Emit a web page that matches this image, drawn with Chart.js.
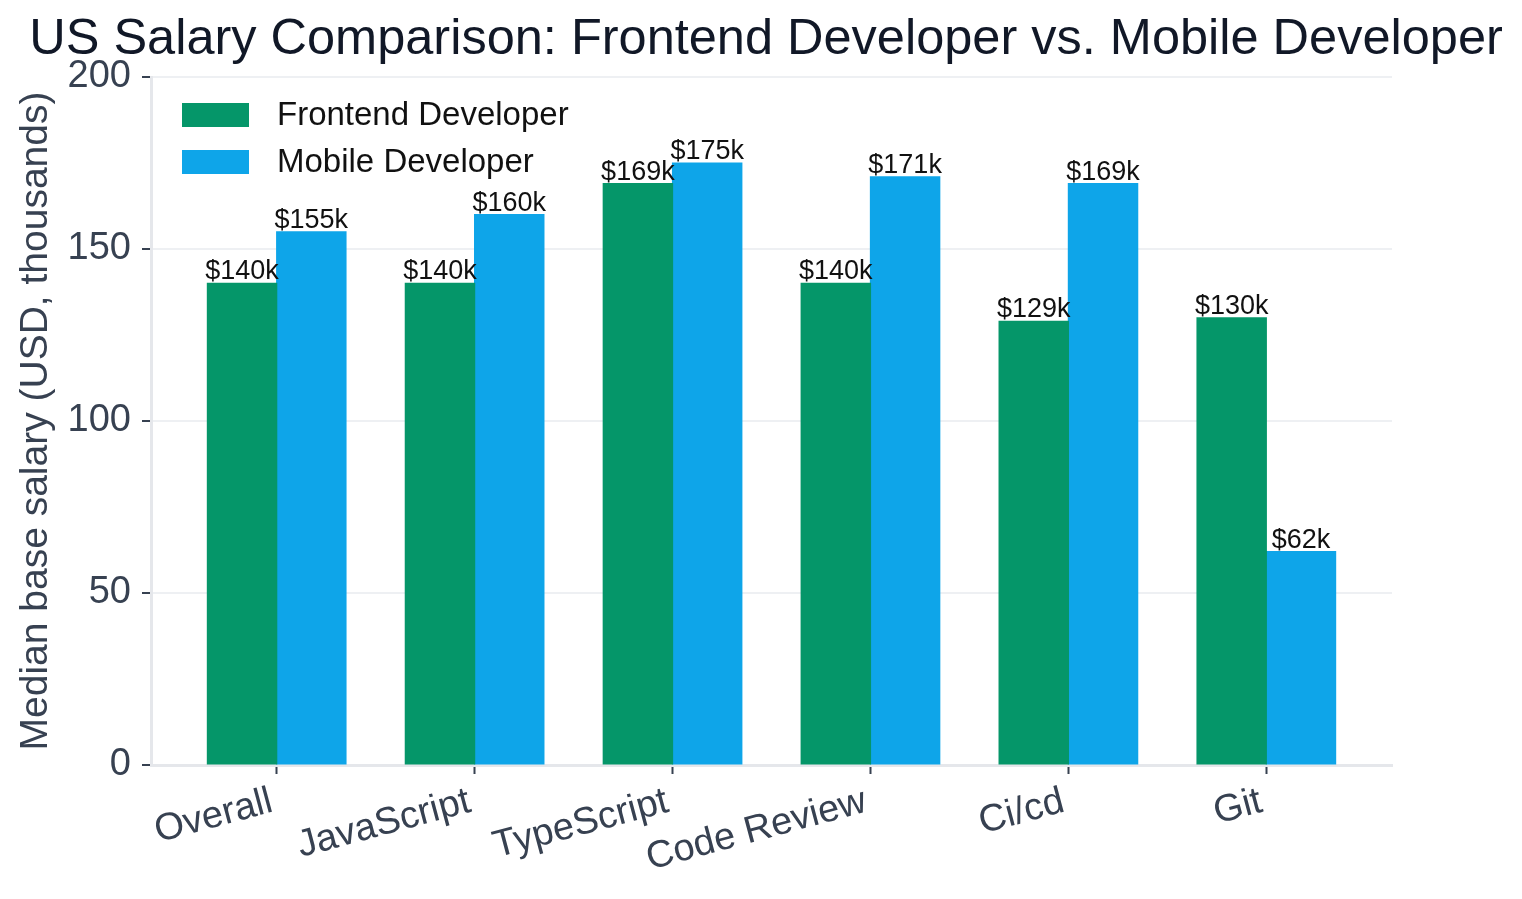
<!DOCTYPE html>
<html>
<head>
<meta charset="utf-8">
<script src="https://cdn.jsdelivr.net/npm/chart.js@4.4.0/dist/chart.umd.min.js"></script>
<style>
  html, body { margin: 0; padding: 0; background: #ffffff; }
  #wrap { width: 1522px; height: 899px; position: relative; }
</style>
</head>
<body>
<div id="wrap"><canvas id="salary_chart" width="1522" height="899"></canvas></div>
<script>
    'use strict';

    // chart data
    var categories = ['Overall', 'JavaScript', 'TypeScript', 'Code Review', 'Ci/cd', 'Git'];
    var frontendSalary = [140, 140, 169, 140, 129, 130];
    var mobileSalary = [155, 160, 175, 171, 169, 62];
    var yTicks = [0, 50, 100, 150, 200];

    var chartTitle = 'US Salary Comparison: Frontend Developer vs. Mobile Developer';
    var fontFamily = '"Liberation Sans", Arial, Helvetica, sans-serif';

    function toPoints(values) {
        return values.map(function (v, i) {
            return { x: i, y: v };
        });
    }

    // title, in-plot legend and value labels drawn on top
    var overlayPlugin = {
        id: 'overlay',
        afterDraw: function (chart) {
            var ctx = chart.ctx;
            var area = chart.chartArea;
            ctx.save();

            // title
            ctx.fillStyle = '#111827';
            ctx.font = '50.5px ' + fontFamily;
            ctx.textAlign = 'center';
            ctx.textBaseline = 'middle';
            ctx.fillText(chartTitle, 766, 40);

            // value labels above each bar
            ctx.fillStyle = '#111111';
            ctx.font = '27px ' + fontFamily;
            ctx.textAlign = 'center';
            ctx.textBaseline = 'bottom';
            chart.data.datasets.forEach(function (ds, di) {
                var meta = chart.getDatasetMeta(di);
                meta.data.forEach(function (bar, i) {
                    ctx.fillText('$' + ds.data[i].y + 'k', bar.x, bar.y + 2);
                });
            });

            // legend
            ctx.font = '33px ' + fontFamily;
            ctx.textAlign = 'left';
            ctx.textBaseline = 'middle';
            chart.data.datasets.forEach(function (ds, di) {
                var rowY = area.top + 38 + di * 47;
                ctx.fillStyle = ds.backgroundColor;
                ctx.fillRect(area.left + 31, rowY - 12, 67, 24);
                ctx.fillStyle = '#111111';
                ctx.fillText(ds.label, area.left + 126, rowY + 1);
            });

            ctx.restore();
        }
    };

    var canvas = document.getElementById('salary_chart');
    var salaryChart = new Chart(canvas, {
        type: 'bar',
        data: {
            datasets: [{
                label: 'Frontend Developer',
                data: toPoints(frontendSalary),
                backgroundColor: '#059669',
                borderWidth: 0,
                inflateAmount: 0.6,
                categoryPercentage: 0.7,
                barPercentage: 1.0,
            }, {
                label: 'Mobile Developer',
                data: toPoints(mobileSalary),
                backgroundColor: '#0ea5e9',
                borderWidth: 0,
                inflateAmount: 0.6,
                categoryPercentage: 0.7,
                barPercentage: 1.0,
            }]
        },
        options: {
            responsive: false,
            animation: false,
            events: [],
            layout: {
                padding: { top: 77, right: 130, bottom: 0, left: 0 }
            },
            plugins: {
                legend: { display: false },
                title: { display: false },
                tooltip: { enabled: false },
            },
            scales: {
                x: {
                    type: 'linear',
                    offset: false,
                    min: -0.635,
                    max: 5.635,
                    afterBuildTicks: function (axis) {
                        axis.ticks = categories.map(function (c, i) {
                            return { value: i };
                        });
                    },
                    afterFit: function (axis) {
                        axis.height = 134;
                    },
                    ticks: {
                        autoSkip: false,
                        minRotation: 15,
                        maxRotation: 15,
                        padding: 5,
                        labelOffset: -5,
                        color: '#374151',
                        font: { family: fontFamily, size: 38 },
                        callback: function (value) {
                            return categories[value];
                        }
                    },
                    grid: {
                        offset: false,
                        drawOnChartArea: false,
                        drawTicks: true,
                        tickLength: 9,
                        tickWidth: 2,
                        tickColor: '#374151',
                    },
                    border: { color: '#e5e7eb', width: 3 },
                },
                y: {
                    min: 0,
                    max: 200,
                    afterBuildTicks: function (axis) {
                        axis.ticks = yTicks.map(function (v) {
                            return { value: v };
                        });
                    },
                    afterFit: function (axis) {
                        axis.width = 151;
                    },
                    ticks: {
                        padding: 11,
                        color: '#374151',
                        font: { family: fontFamily, size: 38 },
                    },
                    grid: {
                        color: '#eef0f3',
                        lineWidth: 2,
                        tickLength: 9,
                        tickWidth: 2,
                        tickColor: '#374151',
                    },
                    border: { color: '#e5e7eb', width: 3 },
                    title: {
                        display: true,
                        text: 'Median base salary (USD, thousands)',
                        color: '#374151',
                        font: { family: fontFamily, size: 39 },
                        padding: { top: 13, bottom: 0 },
                    }
                }
            }
        },
        plugins: [overlayPlugin]
    });
</script>
</body>
</html>
